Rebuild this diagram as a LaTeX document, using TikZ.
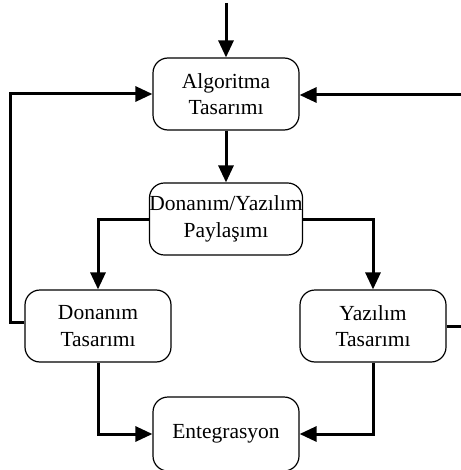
\documentclass[tikz,border=0pt]{standalone}
\usepackage{fontspec}
\setmainfont{Liberation Serif}
\usetikzlibrary{arrows.meta}
\begin{document}
\begin{tikzpicture}[x=1pt,y=-1pt,
  box/.style={draw,line width=1.2pt,rounded corners=15pt,minimum width=146pt,minimum height=72pt,inner sep=0pt,align=center,font=\fontsize{21.5}{26.5}\selectfont},
  conn/.style={line width=3pt,-{Triangle[length=17pt,width=15pt]}},
  plain/.style={line width=3pt}]
\useasboundingbox (0,0) rectangle (460,470);
\node[box] (alg) at (226,94) {Algoritma\\Tasarımı};
\node[box] (dy) at (226,219) {Donanım/Yazılım\\Paylaşımı};
\node[box] (don) at (98,326) {Donanım\\Tasarımı};
\node[box] (yaz) at (373,326) {Yazılım\\Tasarımı};
\node[box,minimum height=74pt] (ent) at (226,434) {Entegrasyon};
\coordinate (top) at (226,3);
\coordinate (dout) at ([yshift=4pt]don.west);
\coordinate (lx) at (10,0);
\coordinate (rin) at (461,95);
\coordinate (rx) at (461,0);
\draw[conn] (top) -- (alg.north);
\draw[conn] (alg.south) -- (dy.north);
\draw[conn] (dy.west) -| (don.north);
\draw[conn] (dy.east) -| (yaz.north);
\draw[conn] (dout) -- (lx |- dout) |- (alg.west);
\draw[conn] (rin) -- (rin -| alg.east);
\draw[plain] (yaz.east) -- (rx |- yaz.east);
\draw[conn] (don.south) |- (ent.west);
\draw[conn] (yaz.south) |- (ent.east);
\end{tikzpicture}
\end{document}
